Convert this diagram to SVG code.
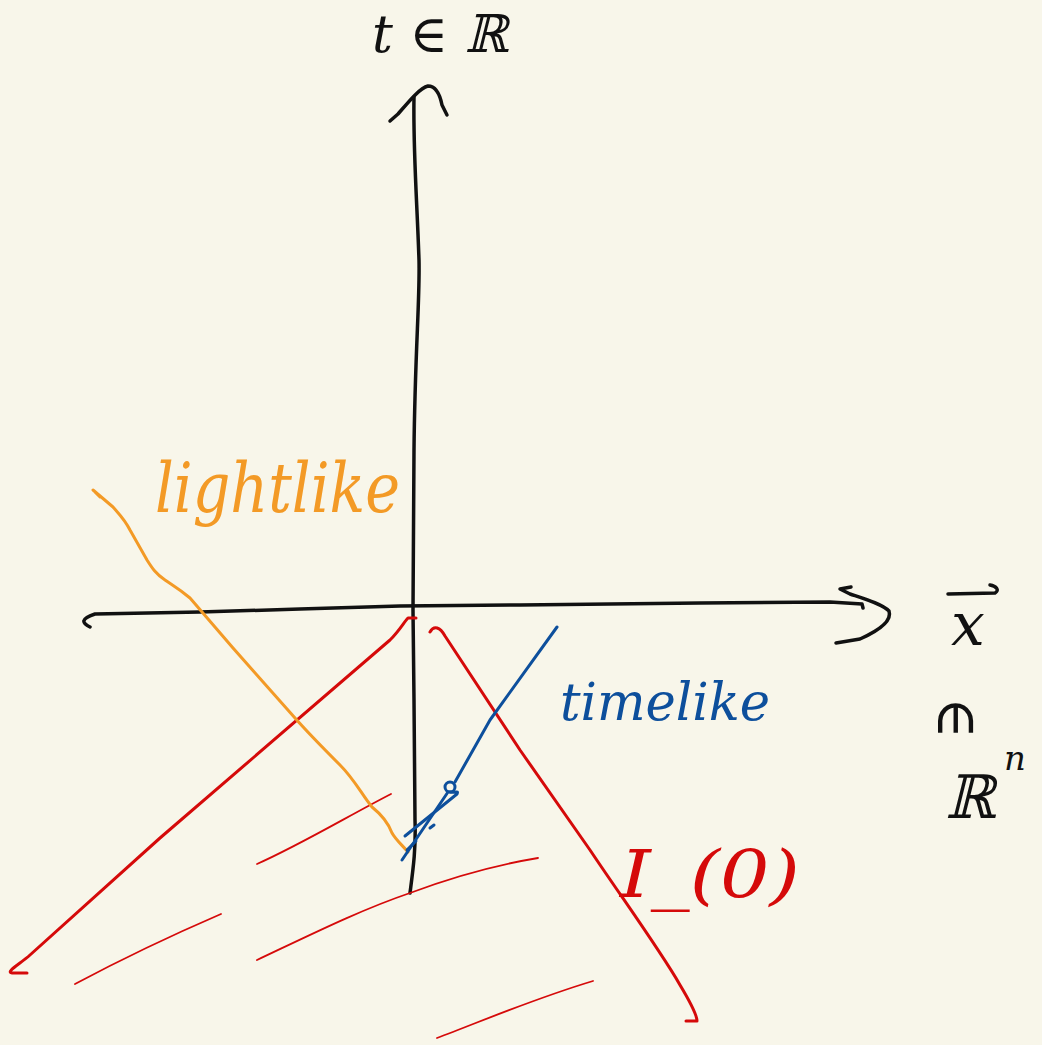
<svg xmlns="http://www.w3.org/2000/svg" width="1042" height="1045" viewBox="0 0 1042 1045">
<style>
.ink{fill:none;stroke-linecap:round;stroke-linejoin:round}
.blk{stroke:#111;stroke-width:3.5}
.red{stroke:#d50a0a;stroke-width:3}
.redthin{stroke:#d50a0a;stroke-width:1.8}
.org{stroke:#f39a26;stroke-width:3}
.blu{stroke:#0d4f9c;stroke-width:3}
.hand{font-family:"DejaVu Serif","Liberation Serif",serif;font-style:italic}
</style>
<rect width="1042" height="1045" fill="#f8f6ea"/>
<g id="axes">
<path class="ink blk" d="M410,893 C413,870 416,850 415,820 L414,700 L413,610 L414,450 C415,350 420,300 419,260 C417,200 413,150 414,97"/>
<path class="ink blk" d="M390,121 L398,114 C410,100 420,88 428,86 C436,86 440,95 442,105 L447,115"/>
<path class="ink blk" d="M90,627 C82,623 80,619 95,614 L200,612 L300,609 L400,606 L520,605 L700,603 L830,602 L862,604 L863,608"/>
<path class="ink blk" d="M851,587 L840,589 L850,594 C865,599 882,604 889,611 C892,620 880,630 860,639 L836,643"/>
</g>
<g id="cone">
<path class="ink red" d="M416,618 L408,618 C404,622 400,630 390,640 L160,838 L30,955 C20,964 5,972 12,973 L27,973"/>
<path class="ink red" d="M430,632 C434,625 440,627 445,636 L520,750 L590,850 C620,895 660,950 680,985 C692,1005 697,1015 697,1021 L686,1021"/>
<path class="ink redthin" d="M257,864 C300,845 350,815 391,794"/>
<path class="ink redthin" d="M75,984 C120,960 170,936 221,914"/>
<path class="ink redthin" d="M257,960 C310,935 360,910 410,893 C450,878 490,866 538,858"/>
<path class="ink redthin" d="M437,1038 C480,1022 530,1000 593,981"/>
</g>
<g id="lightlike-curve">
<path class="ink org" d="M100,497 L93,490 L113,507 C120,515 125,520 130,530 L147,560 C152,568 156,574 165,580 C172,585 178,588 190,598 L233,648 L295,718 C310,735 325,750 340,765 C355,780 362,795 372,807 C382,815 388,822 392,833 C396,840 402,845 408,852"/>
</g>
<g id="timelike-curve">
<path class="ink blu" d="M557,627 L490,720 L455,782"/>
<circle cx="450" cy="787" r="5" class="ink blu" stroke-width="2.5"/>
<path class="ink blu" d="M448,792 L402,860"/>
<path class="ink blu" d="M450,792 C455,793 459,790 457,794 L405,836"/>
<path class="ink blu" d="M407,850 L416,841" stroke-width="2"/>
<path class="ink blu" d="M430,828 L434,825" stroke-width="2"/>
</g>
<g id="labels">
<text class="hand" x="372" y="52" font-size="52" fill="#111">t ∈ ℝ</text>
<text class="hand" x="155" y="512" font-size="70" fill="#f39a26" textLength="245" lengthAdjust="spacingAndGlyphs">lightlike</text>
<text class="hand" x="560" y="720" font-size="52" fill="#0d4f9c" textLength="210" lengthAdjust="spacingAndGlyphs">timelike</text>
<text class="hand" x="620" y="897" font-size="66" fill="#d50a0a" textLength="180" lengthAdjust="spacingAndGlyphs">I_(0)</text>
<text class="hand" x="968" y="645" font-size="60" fill="#111" text-anchor="middle">x</text>
<path class="ink blk" d="M948,594 L995,593 C1000,590 996,586 990,585"/>
<text class="hand" font-size="56" fill="#111" text-anchor="middle" transform="translate(956,718) rotate(90)" dy="18">∈</text>
<text class="hand" x="970" y="818" font-size="60" fill="#111" text-anchor="middle">ℝ</text>
<text class="hand" x="1015" y="770" font-size="34" fill="#111" text-anchor="middle">n</text>
</g>
</svg>
